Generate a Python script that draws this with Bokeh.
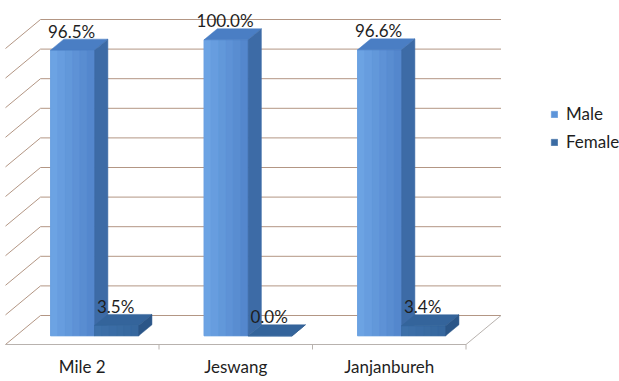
from bokeh.plotting import figure
from bokeh.models import Range1d, Legend, LegendItem
from bokeh.core.properties import value
from bokeh.embed import file_html
from bokeh.resources import INLINE

# ---- data ----
categories = ["Mile 2", "Jeswang", "Janjanbureh"]
male = [96.5, 100.0, 96.6]
female = [3.5, 0.0, 3.4]
grid_values = [0, 10, 20, 30, 40, 50, 60, 70, 80, 90, 100]

# ---- layout (projection of an oblique 3D view) ----
PX = 153.5          # pixels per category
PY = 2.96           # pixels per percent
X0 = -5 / PX
X1 = X0 + 619 / PX
Y1 = 344 / PY
Y0 = -(381 - 344) / PY
DX = 35 / PX        # full floor depth, in x data units
DY = 29 / PY        # full floor depth, in y data units
D0, D1 = 0.30, 0.68  # bar depth span
BL, BW = 0.225, 0.287  # bar left offset and width inside a category
N = len(categories)

def proj(x, v, d):
    return x + d * DX, v + d * DY

def quad_front(l, r, val):
    pts = [proj(l, 0, D0), proj(r, 0, D0), proj(r, val, D0), proj(l, val, D0)]
    return [q[0] for q in pts], [q[1] for q in pts]

def quad_top(l, r, val):
    pts = [proj(l, val, D0), proj(r, val, D0), proj(r, val, D1), proj(l, val, D1)]
    return [q[0] for q in pts], [q[1] for q in pts]

def quad_side(r, val):
    pts = [proj(r, 0, D0), proj(r, 0, D1), proj(r, val, D1), proj(r, val, D0)]
    return [q[0] for q in pts], [q[1] for q in pts]

def mix(c1, c2, t):
    a = [int(c1[k:k + 2], 16) for k in (1, 3, 5)]
    b = [int(c2[k:k + 2], 16) for k in (1, 3, 5)]
    return "#" + "".join(f"{round(a[j] + (b[j] - a[j]) * t):02x}" for j in range(3))

p = figure(width=619, height=381, x_range=Range1d(X0, X1), y_range=Range1d(Y0, Y1),
           min_border=0, toolbar_location=None, output_backend="svg",
           x_axis_type=None, y_axis_type=None)
p.grid.visible = False
p.outline_line_color = None
p.background_fill_color = "white"
p.border_fill_color = "white"

GRID = "#B39684"
for g in grid_values:
    bx0, by = proj(0, g, 1)
    bx1, _ = proj(N, g, 1)
    p.line([bx0, bx1], [by, by], line_color=GRID, line_width=1)
    fx0, fy0 = proj(0, g, 0)
    p.line([fx0, bx0], [fy0, by], line_color=GRID, line_width=1)

FLOOR = "#B8B2AE"
p.line([0, N], [0, 0], line_color=FLOOR, line_width=1)
rx, ry = proj(N, 0, 1)
p.line([N, rx], [0, ry], line_color=FLOOR, line_width=1)
for k in range(1, N + 1):
    p.segment(x0=[k], y0=[0], x1=[k], y1=[-5 / PY], line_color=FLOOR, line_width=1)

series = [
    ("Male", male, 0.0, ("#5C94D9", "#4A7EC4", "#3D6BA6"), ("#6CA3E3", "#5487CD")),
    ("Female", female, BW, ("#3A6BA3", "#34649B", "#2B5688"), ("#3D70A9", "#36679E")),
]

STRIPS = 6
front_renderers = {}
for i in range(N):
    for name, vals, off, cols, grad in series:
        left = i + BL + off
        right = left + BW
        fx, fy = quad_front(left, right, vals[i])
        rf = p.patch(fx, fy, fill_color=cols[0], line_color=cols[0], line_width=0.5)
        front_renderers.setdefault(name, rf)
        for s in range(STRIPS):
            l = left + BW * s / STRIPS
            r = left + BW * (s + 1) / STRIPS
            c = mix(grad[0], grad[1], s / (STRIPS - 1))
            sx_, sy_ = quad_front(l, r, vals[i])
            p.patch(sx_, sy_, fill_color=c, line_color=c, line_width=0.6)
        tx, ty = quad_top(left, right, vals[i])
        p.patch(tx, ty, fill_color=cols[1], line_color=cols[1], line_width=0.5)
        sx, sy = quad_side(right, vals[i])
        p.patch(sx, sy, fill_color=cols[2], line_color=cols[2], line_width=0.5)

# data labels
lx, ly, lt = [], [], []
for name, vals, off, cols, grad in series:
    for i in range(N):
        x, _ = proj(i + BL + off + BW / 2, vals[i], D0)
        _, yb = proj(0, vals[i], D1)
        lx.append(x - 1 / PX)
        ly.append(yb)
        lt.append(f"{vals[i]:.1f}%")
p.text(x=lx, y=ly, text=lt, text_align="center", text_baseline="middle",
       y_offset=-8, text_font=value("Lato"), text_font_size="17px", text_color="#1E1E1E")

# category labels
cx = [i + 0.5 for i in range(N)]
cy = [0] * N
p.text(x=cx, y=cy, text=categories, text_align="center", text_baseline="middle",
       y_offset=22, text_font=value("Lato"), text_font_size="17px", text_color="#1E1E1E")

legend = Legend(items=[LegendItem(label="Male", renderers=[front_renderers["Male"]]),
                       LegendItem(label="Female", renderers=[front_renderers["Female"]])],
                location=(550, 229), border_line_color=None, background_fill_alpha=0,
                label_text_font="Lato", label_text_font_size="17px", label_text_color="#1E1E1E",
                glyph_width=8, glyph_height=8, label_standoff=8, spacing=7, label_height=20,
                padding=0, margin=0)
p.add_layout(legend)

open("out.html", "w").write(file_html(p, INLINE))
